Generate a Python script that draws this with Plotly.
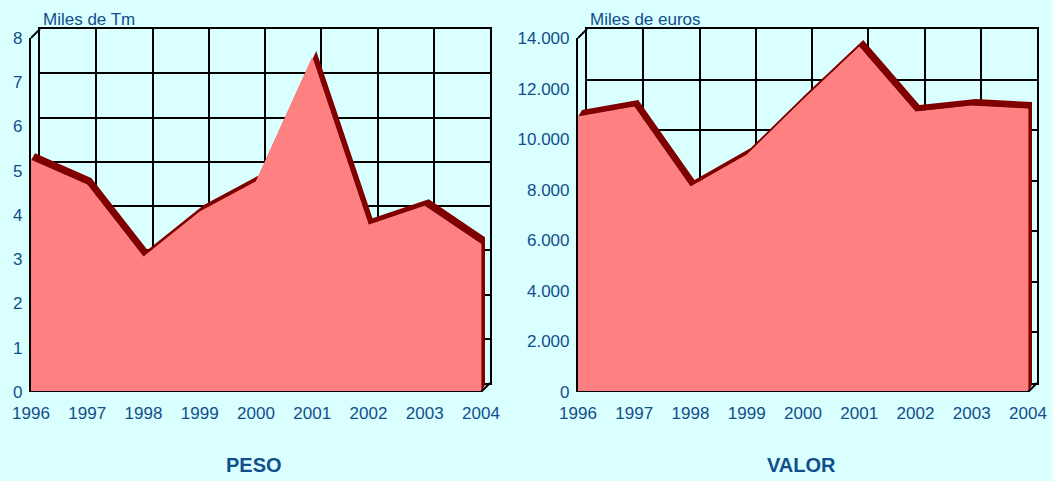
import plotly.graph_objects as go

# ---------------- data ----------------
years = [1996, 1997, 1998, 1999, 2000, 2001, 2002, 2003, 2004]
year_labels = [str(y) for y in years]
peso = [5.24, 4.68, 3.05, 4.07, 4.75, 7.55, 3.77, 4.20, 3.34]          # miles de Tm
valor = [10880, 11270, 8110, 9370, 11550, 13640, 11070, 11310, 11190]  # miles de euros
peso_ticks = [0, 1, 2, 3, 4, 5, 6, 7, 8]
peso_ticktext = ["0", "1", "2", "3", "4", "5", "6", "7", "8"]
valor_ticks = [0, 2000, 4000, 6000, 8000, 10000, 12000, 14000]
valor_ticktext = ["0", "2.000", "4.000", "6.000", "8.000", "10.000", "12.000", "14.000"]
titles = ["PESO", "VALOR"]
units = ["Miles de Tm", "Miles de euros"]

# ---------------- style / layout geometry (pixels) ----------------
W, H = 1053, 481
BG = "#D9FFFF"
TXT = "#124E8C"
PINK = "#FF8080"
DARK = "#800000"
FONT = "Liberation Sans, Arial, sans-serif"

FRONT_TOP, FRONT_BOT = 38, 392        # front plane y (px from top)
DEPTH = 9                             # wall depth (px)
AREA_DX, AREA_DY = 4, 7               # area thickness offset (px)
EXT = 11                              # extra px on the right of front axes
panels = [
    dict(x0=31, x1=481, ymax=8, vals=peso, ticks=peso_ticks, ticktext=peso_ticktext),
    dict(x0=578, x1=1028, ymax=14000, vals=valor, ticks=valor_ticks, ticktext=valor_ticktext),
]

def px(x):
    return x / W

def py(y):
    return 1 - y / H

fig = go.Figure()
layout = dict(
    template="none",
    width=W, height=H, margin=dict(l=0, r=0, t=0, b=0, pad=0, autoexpand=False),
    paper_bgcolor=BG, plot_bgcolor="rgba(0,0,0,0)",
    showlegend=False, font=dict(family=FONT, color=TXT, size=17),
)

shapes = []
annotations = []
span = years[-1] - years[0]

for i, p in enumerate(panels):
    bx = "x" if i == 0 else "x2"
    by = "y" if i == 0 else "y2"
    fx = "x%d" % (i + 3)
    fy = "y%d" % (i + 3)
    ppy_x = (p["x1"] - p["x0"]) / span           # px per year
    ppy_y = (FRONT_BOT - FRONT_TOP) / p["ymax"]  # px per value unit

    # back plane (grid)
    layout["xaxis" + ("" if i == 0 else "2")] = dict(
        domain=[px(p["x0"] + DEPTH), px(p["x1"] + DEPTH)], range=[years[0], years[-1]],
        tickvals=years, showticklabels=False, ticks="", showgrid=True, gridcolor="black",
        gridwidth=1.6, showline=True, mirror=True, linecolor="black", linewidth=1.6,
        zeroline=False, anchor=by, fixedrange=True, automargin=False)
    layout["yaxis" + ("" if i == 0 else "2")] = dict(
        domain=[py(FRONT_BOT - DEPTH), py(FRONT_TOP - DEPTH)], range=[0, p["ymax"]],
        tickvals=p["ticks"], showticklabels=False, ticks="", showgrid=True, gridcolor="black",
        gridwidth=1.6, showline=True, mirror=True, linecolor="black", linewidth=1.6,
        zeroline=False, anchor=bx, fixedrange=True, automargin=False)
    # front plane (labels + area)
    layout["xaxis%d" % (i + 3)] = dict(
        domain=[px(p["x0"]), px(p["x1"] + EXT)],
        range=[years[0], years[-1] + EXT / ppy_x],
        tickvals=years, ticktext=year_labels, ticks="", showgrid=False, showline=False,
        zeroline=False, anchor=fy, ticklabelstandoff=9, automargin=False,
        tickfont=dict(size=17, color=TXT, family=FONT), fixedrange=True)
    layout["yaxis%d" % (i + 3)] = dict(
        domain=[py(FRONT_BOT), py(FRONT_TOP)], range=[0, p["ymax"]],
        tickvals=p["ticks"], ticktext=p["ticktext"], ticks="", showgrid=False,
        showline=True, linecolor="black", linewidth=2.2, zeroline=False, anchor=fx,
        ticklabelstandoff=3, automargin=False,
        tickfont=dict(size=17, color=TXT, family=FONT), fixedrange=True)

    # dummy trace on the back subplot so it is layered first
    fig.add_trace(go.Scatter(x=[years[0]], y=[0], mode="markers", marker=dict(opacity=0),
                             hoverinfo="skip", xaxis=bx, yaxis=by))

    vals = p["vals"]
    ddx = AREA_DX / ppy_x
    ddy = AREA_DY / ppy_y
    # top band + right end face of the 3D area
    bxs = list(years) + [years[-1], years[-1] + ddx] + [y + ddx for y in reversed(years)]
    bys = list(vals) + [0, ddy] + [v + ddy for v in reversed(vals)]
    fig.add_trace(go.Scatter(x=bxs, y=bys, fill="toself", fillcolor=DARK, mode="lines",
                             line=dict(color=DARK, width=0), hoverinfo="skip",
                             xaxis=fx, yaxis=fy))
    # front face
    fxs = [years[0]] + list(years) + [years[-1]]
    fys = [0] + list(vals) + [0]
    fig.add_trace(go.Scatter(x=fxs, y=fys, fill="toself", fillcolor=PINK, mode="lines",
                             line=dict(color=PINK, width=0.8), hoverinfo="skip",
                             xaxis=fx, yaxis=fy))
    # front floor edge + right diagonal
    fig.add_trace(go.Scatter(
        x=[years[0], years[-1], years[-1] + DEPTH / ppy_x],
        y=[0, 0, DEPTH / ppy_y], mode="lines",
        line=dict(color="black", width=2), hoverinfo="skip", xaxis=fx, yaxis=fy))

    # top-left wall diagonal
    shapes.append(dict(type="line", xref="paper", yref="paper",
                       x0=px(p["x0"]), y0=py(FRONT_TOP),
                       x1=px(p["x0"] + DEPTH), y1=py(FRONT_TOP - DEPTH),
                       line=dict(color="black", width=1.8)))

    annotations.append(dict(text=units[i], xref="paper", yref="paper",
                            x=px(p["x0"] + 10), y=py(19), xanchor="left", yanchor="middle",
                            showarrow=False, font=dict(size=17, color=TXT, family=FONT)))
    annotations.append(dict(text="<b>%s</b>" % titles[i], xref="paper", yref="paper",
                            x=px((p["x0"] + p["x1"]) / 2 - 2), y=py(465), xanchor="center",
                            yanchor="middle", showarrow=False,
                            font=dict(size=20, color=TXT, family=FONT)))

layout["shapes"] = shapes
layout["annotations"] = annotations
fig.update_layout(**layout)
fig.write_html("out.html", config={"displayModeBar": False},
               post_script="document.body.style.margin='0';")
